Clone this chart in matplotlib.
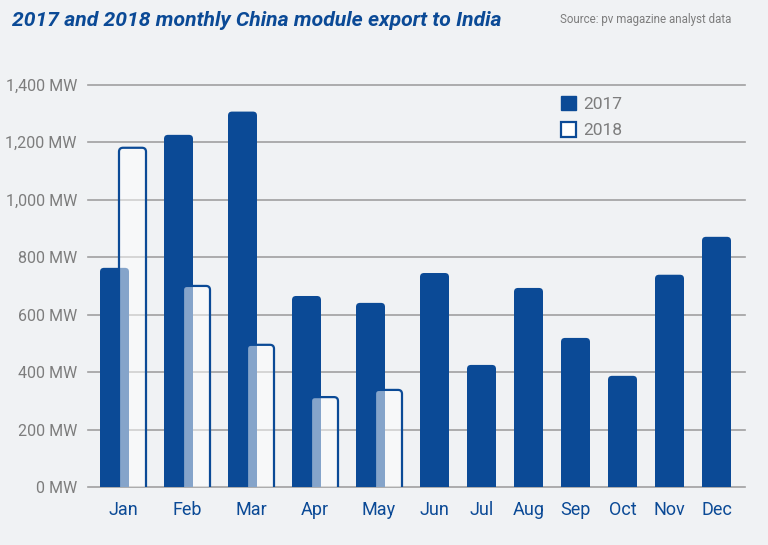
import matplotlib
matplotlib.use('Agg')
import matplotlib.pyplot as plt
from matplotlib.patches import FancyBboxPatch, Patch

months = ['Jan', 'Feb', 'Mar', 'Apr', 'May', 'Jun', 'Jul', 'Aug', 'Sep', 'Oct', 'Nov', 'Dec']
mw_2017 = [763, 1226, 1307, 665, 641, 745, 425, 693, 519, 387, 739, 871]
mw_2018 = [1181, 700, 495, 313, 338]
yticks = [0, 200, 400, 600, 800, 1000, 1200, 1400]

blue = '#0b4a96'
bg = '#f0f2f4'
grey = '#7d7d7d'
plt.rcParams['font.family'] = ['Liberation Sans Narrow', 'Roboto', 'DejaVu Sans']

fig = plt.figure(figsize=(7.68, 5.45), dpi=100, facecolor=bg)
# axes in pixel-like x units: 1 unit = 1 px
ax = fig.add_axes([88/768, 1-487/545, 657/768, (487-82)/545])
ax.set_facecolor(bg)
ax.set_xlim(88, 745)
ax.set_ylim(0, 1410)
aspect = 1410 / 405.0  # MW per px

def rbar(x, w, h, **kw):
    p = FancyBboxPatch((x, -60), w, h + 60,
                       boxstyle='round,pad=0,rounding_size=4',
                       mutation_aspect=aspect, **kw)
    ax.add_patch(p)

centers = []
left = 100
for i, m in enumerate(months):
    has18 = i < len(mw_2018)
    width = 46 if has18 else 29
    rbar(left, 29, mw_2017[i], facecolor=blue, edgecolor='none', zorder=2)
    if has18:
        rbar(left + 19, 27, mw_2018[i], facecolor=(1, 1, 1, 0.5),
             edgecolor=blue, linewidth=1.6, zorder=3)
    centers.append(left + width / 2)
    left += width + 18

for t in yticks:
    ax.axhline(t, color='#a0a0a0', lw=1.2, zorder=1, clip_on=False)

for s in ax.spines.values():
    s.set_visible(False)
ax.set_yticks(yticks)
ax.set_yticklabels(['{:,} MW'.format(t) for t in yticks], color=grey, fontsize=11.5)
ax.set_xticks(centers)
ax.set_xticklabels(months, color=blue, fontsize=13)
ax.tick_params(axis='y', length=0, pad=8)
ax.tick_params(axis='x', length=0, pad=10)

fig.text(12/768, 1-20/545, '2017 and 2018 monthly China module export to India',
         color=blue, fontsize=15.2, fontweight='bold', fontstyle='italic', va='center')
fig.text(560/768, 1-20/545, 'Source: pv magazine analyst data', color=grey,
         fontsize=8.3, va='center')

handles = [Patch(facecolor=blue, edgecolor=blue, label='2017'),
           Patch(facecolor='white', edgecolor=blue, linewidth=1.6, label='2018')]
leg = fig.legend(handles=handles, loc='upper left', bbox_to_anchor=(545/768, 1-80/545),
                 frameon=False, handlelength=0.9, handleheight=0.9, handletextpad=0.4,
                 labelspacing=0.6, fontsize=12.5)
for t in leg.get_texts():
    t.set_color(grey)

fig.savefig('out.png', dpi=100, facecolor=bg)
